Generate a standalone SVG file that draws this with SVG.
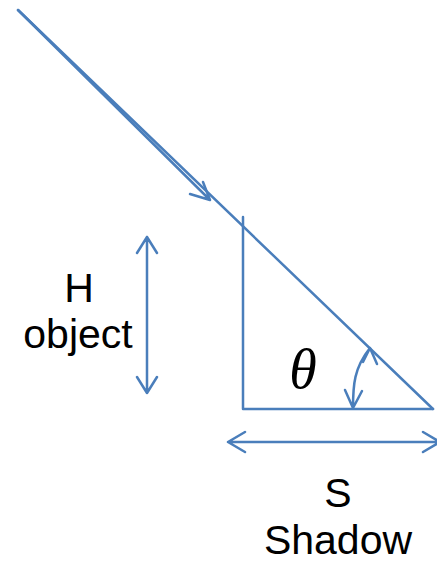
<svg xmlns="http://www.w3.org/2000/svg" width="437" height="563" viewBox="0 0 437 563">
<style>
.ln{fill:none;stroke:#4a7ebb;stroke-width:2.5;stroke-linecap:round;stroke-linejoin:round}
.t{font-family:"Liberation Sans",Arial,sans-serif;font-size:41px;fill:#000;text-anchor:middle}
.th{font-family:"Liberation Serif","Times New Roman",serif;font-style:italic;font-size:56px;fill:#000;text-anchor:middle}
</style>
<rect width="437" height="563" fill="#fff"/>
<g id="connectors">
<path class="ln" d="M18,10 L433,409"/>
<path class="ln" d="M18,10 L210,200 M203,182 L210,200 L190,194"/>
<path class="ln" d="M243,217 L243,409 L433,409"/>
<path class="ln" d="M147,237 L147,393 M137,253 L147,237 L157,253 M137,377 L147,393 L157,377"/>
<path class="ln" d="M228,442 L440,442 M245,432 L228,442 L245,452 M423,432 L440,442 L423,452"/>
<path class="ln" d="M353,408 C353,385 354,368 370,348 M345,390 L353,408 L362,391 M363,362 L370,348 L377,364"/>
</g>
<g id="theta"><text class="th" x="303" y="388">θ</text></g>
<g id="H"><text class="t" x="79" y="302">H</text><text class="t" x="78" y="348">object</text></g>
<g id="S"><text class="t" x="338" y="507">S</text><text class="t" x="338" y="554">Shadow</text></g>
</svg>
